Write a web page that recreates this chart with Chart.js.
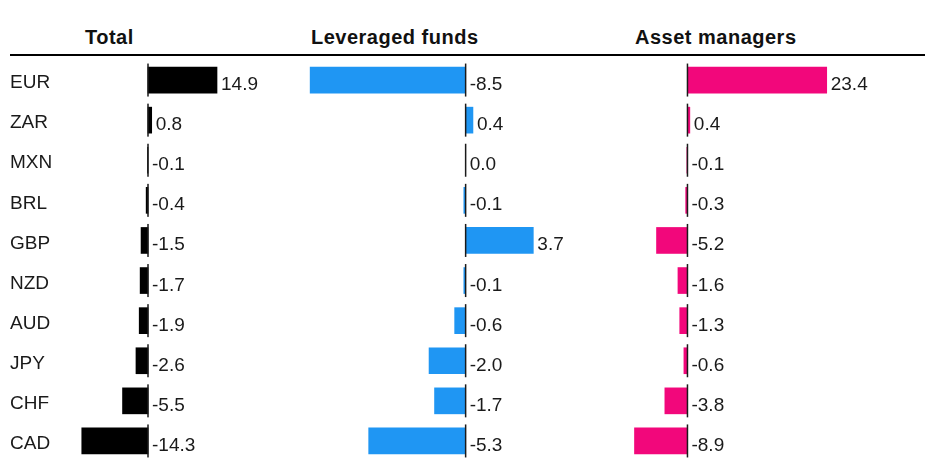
<!DOCTYPE html>
<html>
<head>
<meta charset="utf-8">
<script src="https://cdn.jsdelivr.net/npm/chart.js@4.4.0/dist/chart.umd.min.js"></script>
<style>
body { margin: 0; background: #fff; font-family: "Liberation Sans", Arial, sans-serif; }
#wrap { position: relative; width: 933px; height: 463px; overflow: hidden; }
#wrap canvas { position: absolute; left: 0; top: 0; }
.title { position: absolute; top: 26px; line-height: 23px; font-weight: bold; font-size: 20px; letter-spacing: 0.5px; color: #111; }
#rule { position: absolute; left: 10px; top: 54px; width: 915px; height: 2px; background: #000; }
</style>
</head>
<body>
<div id="wrap">
  <div class="title" style="left:85px">Total</div>
  <div class="title" style="left:311px">Leveraged funds</div>
  <div class="title" style="left:635px">Asset managers</div>
  <div id="rule"></div>
  <canvas id="c1" width="933" height="463"></canvas>
  <canvas id="c2" width="933" height="463"></canvas>
  <canvas id="c3" width="933" height="463"></canvas>
</div>
<script>
// currencies, top to bottom
const currencies = ['EUR', 'ZAR', 'MXN', 'BRL', 'GBP', 'NZD', 'AUD', 'JPY', 'CHF', 'CAD'];

// net positions per group
const totalValues = [14.9, 0.8, -0.1, -0.4, -1.5, -1.7, -1.9, -2.6, -5.5, -14.3];
const leveragedValues = [-8.5, 0.4, 0.0, -0.1, 3.7, -0.1, -0.6, -2.0, -1.7, -5.3];
const assetValues = [23.4, 0.4, -0.1, -0.3, -5.2, -1.6, -1.3, -0.6, -3.8, -8.9];

const FONT = '"Liberation Sans", Arial, sans-serif';

// zero line per row + value label next to each bar
const valueLabels = {
  id: 'valueLabels',
  afterDatasetsDraw(chart) {
    const ctx = chart.ctx;
    const meta = chart.getDatasetMeta(0);
    const zero = chart.scales.x.getPixelForValue(0);
    const vals = chart.data.datasets[0].data;
    ctx.save();
    meta.data.forEach((bar, i) => {
      ctx.fillStyle = '#1a1a1a';
      ctx.fillRect(zero - 0.75, bar.y - 16.5, 1.5, 33);
      ctx.font = '19px ' + FONT;
      ctx.textBaseline = 'alphabetic';
      ctx.textAlign = 'left';
      ctx.fillText(vals[i].toFixed(1), Math.max(bar.x, zero) + 4, bar.y + 10);
    });
    ctx.restore();
  }
};

function makePanel(id, values, color, xMin, xMax, padLeft, padRight, showCats) {
  const ctx = document.getElementById(id).getContext('2d');
  return new Chart(ctx, {
    type: 'bar',
    data: {
      labels: currencies,
      datasets: [{
        data: values,
        backgroundColor: color,
        borderWidth: 0,
        barThickness: 26
      }]
    },
    options: {
      indexAxis: 'y',
      responsive: false,
      animation: false,
      layout: { padding: { left: padLeft, right: padRight, top: 60, bottom: 2 } },
      plugins: { legend: { display: false }, tooltip: { enabled: false } },
      scales: {
        x: { display: false, min: xMin, max: xMax },
        y: {
          display: showCats,
          grid: { display: false },
          border: { display: false },
          ticks: {
            color: '#1a1a1a',
            font: { family: FONT, size: 19 },
            crossAlign: 'far',
            labelOffset: 3,
            padding: 0
          },
          afterFit(scale) {
            if (!showCats) return;
            scale.width = 50;
            scale.paddingTop = 0;
            scale.paddingBottom = 0;
          }
        }
      }
    },
    plugins: [valueLabels]
  });
}

makePanel('c1', totalValues, '#000000', -19, 28.5, 10, 653, true);
makePanel('c2', leveragedValues, '#1f96f3', -9, 7.4, 301, 332, false);
makePanel('c3', assetValues, '#f2077b', -11, 30, 622, 67, false);
</script>
</body>
</html>
